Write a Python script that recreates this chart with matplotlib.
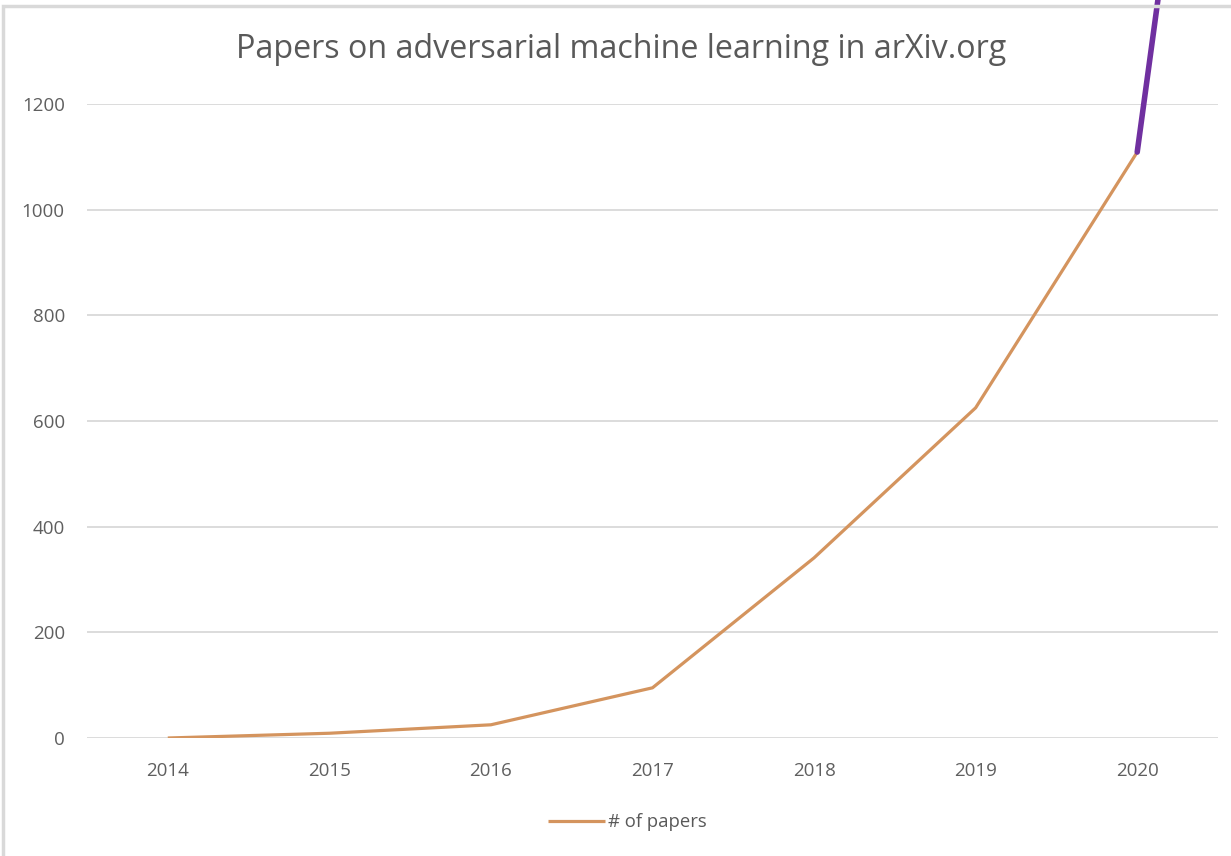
import matplotlib
matplotlib.use("Agg")
import matplotlib.pyplot as plt
from matplotlib.patches import Rectangle

years = ["2014", "2015", "2016", "2017", "2018", "2019", "2020"]
papers = [0, 9, 25, 95, 341, 625, 1109]
yticks = [0, 200, 400, 600, 800, 1000, 1200]
title = "Papers on adversarial machine learning in arXiv.org"
series_label = "# of papers"

plt.rcParams['font.family'] = ['Open Sans', 'DejaVu Sans']

W, H = 1231, 856
fig = plt.figure(figsize=(W / 100, H / 100), dpi=100)
fig.patch.set_facecolor('white')

left, right, top, bottom = 87, 1218, 104, 738
ax = fig.add_axes([left / W, 1 - bottom / H, (right - left) / W, (bottom - top) / H])

x = list(range(len(years)))
ax.plot(x, papers, color='#D4945E', lw=2.3, label=series_label, solid_capstyle='butt', zorder=3)

ax.set_xlim(-0.5, len(years) - 0.5)
ax.set_ylim(0, 1200)
ax.set_yticks(yticks)
ax.set_yticklabels([str(v) for v in yticks])
ax.set_xticks(x)
ax.set_xticklabels(years)
ax.grid(axis='y', color='#d9d9d9', lw=1.3)
ax.set_axisbelow(True)
for s in ax.spines.values():
    s.set_visible(False)
ax.tick_params(axis='both', length=0, labelsize=13.5, labelcolor='#5f5f5f')
ax.tick_params(axis='y', pad=16)
ax.tick_params(axis='x', pad=17)

fig.text(621 / W, 1 - 49 / H, title, ha='center', va='center', fontsize=23.2, color='#595959')

leg = ax.legend(loc='center', bbox_to_anchor=(627 / (right - left) - left / (right - left), -(822 - bottom) / (bottom - top)),
                frameon=False, fontsize=13.3, handlelength=3.1, handletextpad=0.15, labelcolor='#595959')

# purple annotation stroke rising from the 2020 point
ax.annotate('', xy=(x[-1], papers[-1]), xytext=(17, 125), textcoords='offset points',
            arrowprops=dict(arrowstyle='-', color='#7030A0', lw=4.0, shrinkA=0, shrinkB=0),
            annotation_clip=False, zorder=5)

# outer frame
fig.patches.append(Rectangle((3 / W, -0.1), 1.2, 1 - 6 / H + 0.1, transform=fig.transFigure,
                             fill=False, edgecolor='#d9d9d9', lw=2.5, zorder=0))

fig.savefig('out.png', dpi=100, facecolor='white')
